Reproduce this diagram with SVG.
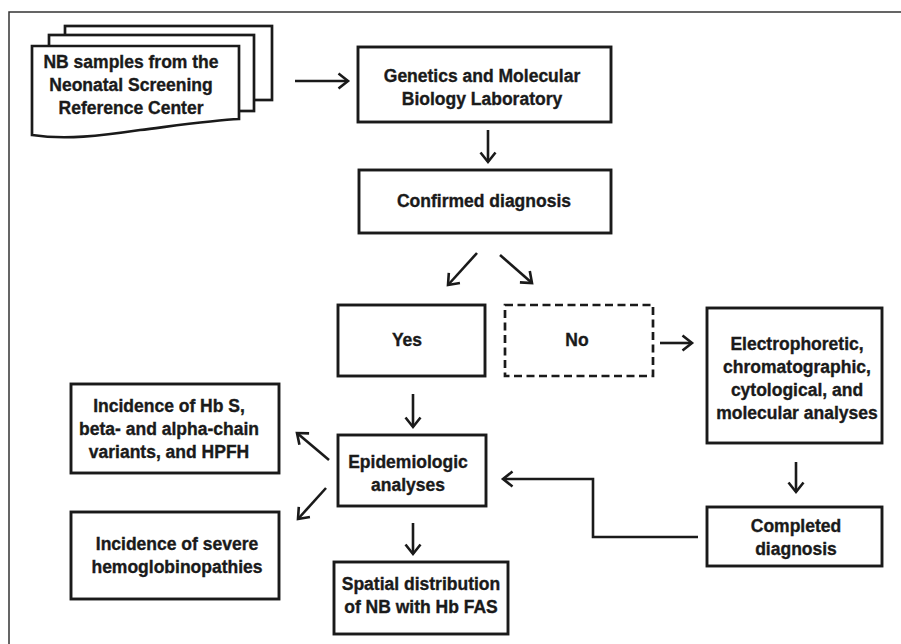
<svg xmlns="http://www.w3.org/2000/svg" width="901" height="644" viewBox="0 0 901 644">
<defs>
<marker id="ah" markerUnits="userSpaceOnUse" markerWidth="16" markerHeight="18" viewBox="0 0 16 18" refX="12.5" refY="9" orient="auto">
<path d="M3,1.5 L12.5,9 L3,16.5" fill="none" stroke="#1a1a1a" stroke-width="2.6" stroke-linejoin="miter"/>
</marker>
<style>
.box{fill:#fff;stroke:#1a1a1a;stroke-width:2.9}
.dash{fill:#fff;stroke:#1a1a1a;stroke-width:2.7;stroke-dasharray:8 4.5}
.sheet{fill:#fff;stroke:#1a1a1a;stroke-width:2.7;stroke-linejoin:miter}
.t{font-family:"Liberation Sans",Arial,sans-serif;font-weight:bold;font-size:17.5px;fill:#1a1a1a;stroke:#1a1a1a;stroke-width:0.35;text-anchor:middle}
.c{fill:none;stroke:#1a1a1a;stroke-width:2.6;marker-end:url(#ah)}
.frame{fill:none;stroke:#333;stroke-width:1.5}
</style>
</defs>
<rect width="901" height="644" fill="#fff"/>
<path class="frame" d="M9,644 L9,12 L901,12"/>

<g id="nb-samples">
<rect class="sheet" x="65" y="26" width="207" height="74"/>
<rect class="sheet" x="49" y="35" width="205" height="76"/>
<path class="sheet" d="M32,46 L239,46 L239,119 C215,120 180,125 140,130 C100,136 65,140 32,135 Z"/>
<text class="t" x="131" y="68">NB samples from the</text>
<text class="t" x="131" y="91">Neonatal Screening</text>
<text class="t" x="131" y="114">Reference Center</text>
</g>

<g id="genetics-lab">
<rect class="box" x="358" y="47" width="253" height="75"/>
<text class="t" x="482" y="82">Genetics and Molecular</text>
<text class="t" x="482" y="105">Biology Laboratory</text>
</g>

<g id="confirmed">
<rect class="box" x="359" y="170" width="252" height="63"/>
<text class="t" x="484" y="207">Confirmed diagnosis</text>
</g>

<g id="yes">
<rect class="box" x="338" y="305" width="147" height="71"/>
<text class="t" x="407" y="346">Yes</text>
</g>

<g id="no">
<rect class="dash" x="505" y="305" width="148" height="71"/>
<text class="t" x="577" y="346">No</text>
</g>

<g id="electro">
<rect class="box" x="707" y="308" width="175" height="135"/>
<text class="t" x="797" y="350">Electrophoretic,</text>
<text class="t" x="797" y="373">chromatographic,</text>
<text class="t" x="797" y="396">cytological, and</text>
<text class="t" x="797" y="419">molecular analyses</text>
</g>

<g id="completed">
<rect class="box" x="707" y="507" width="175" height="59"/>
<text class="t" x="796" y="532">Completed</text>
<text class="t" x="796" y="555">diagnosis</text>
</g>

<g id="epidemiologic">
<rect class="box" x="338" y="435" width="148" height="71"/>
<text class="t" x="408" y="468">Epidemiologic</text>
<text class="t" x="408" y="491">analyses</text>
</g>

<g id="spatial">
<rect class="box" x="334" y="562" width="174" height="72"/>
<text class="t" x="421" y="590">Spatial distribution</text>
<text class="t" x="421" y="613">of NB with Hb FAS</text>
</g>

<g id="incidence-hbs">
<rect class="box" x="71" y="384" width="208" height="89"/>
<text class="t" x="169" y="412">Incidence of Hb S,</text>
<text class="t" x="169" y="435">beta- and alpha-chain</text>
<text class="t" x="169" y="458">variants, and HPFH</text>
</g>

<g id="incidence-severe">
<rect class="box" x="71" y="512" width="208" height="87"/>
<text class="t" x="177" y="550">Incidence of severe</text>
<text class="t" x="177" y="573">hemoglobinopathies</text>
</g>

<g id="connectors">
<line class="c" x1="295" y1="81" x2="348" y2="81"/>
<line class="c" x1="488" y1="130" x2="488" y2="162"/>
<line class="c" x1="477" y1="253" x2="448" y2="285"/>
<line class="c" x1="500" y1="255" x2="532" y2="283"/>
<line class="c" x1="660" y1="343" x2="692" y2="343"/>
<line class="c" x1="796" y1="462" x2="796" y2="492"/>
<polyline class="c" points="698,537 593,537 593,479 503,479"/>
<line class="c" x1="413" y1="394" x2="413" y2="427"/>
<line class="c" x1="413" y1="523" x2="413" y2="554"/>
<line class="c" x1="329" y1="460" x2="297" y2="433"/>
<line class="c" x1="326" y1="488" x2="298" y2="519"/>
</g>
</svg>
